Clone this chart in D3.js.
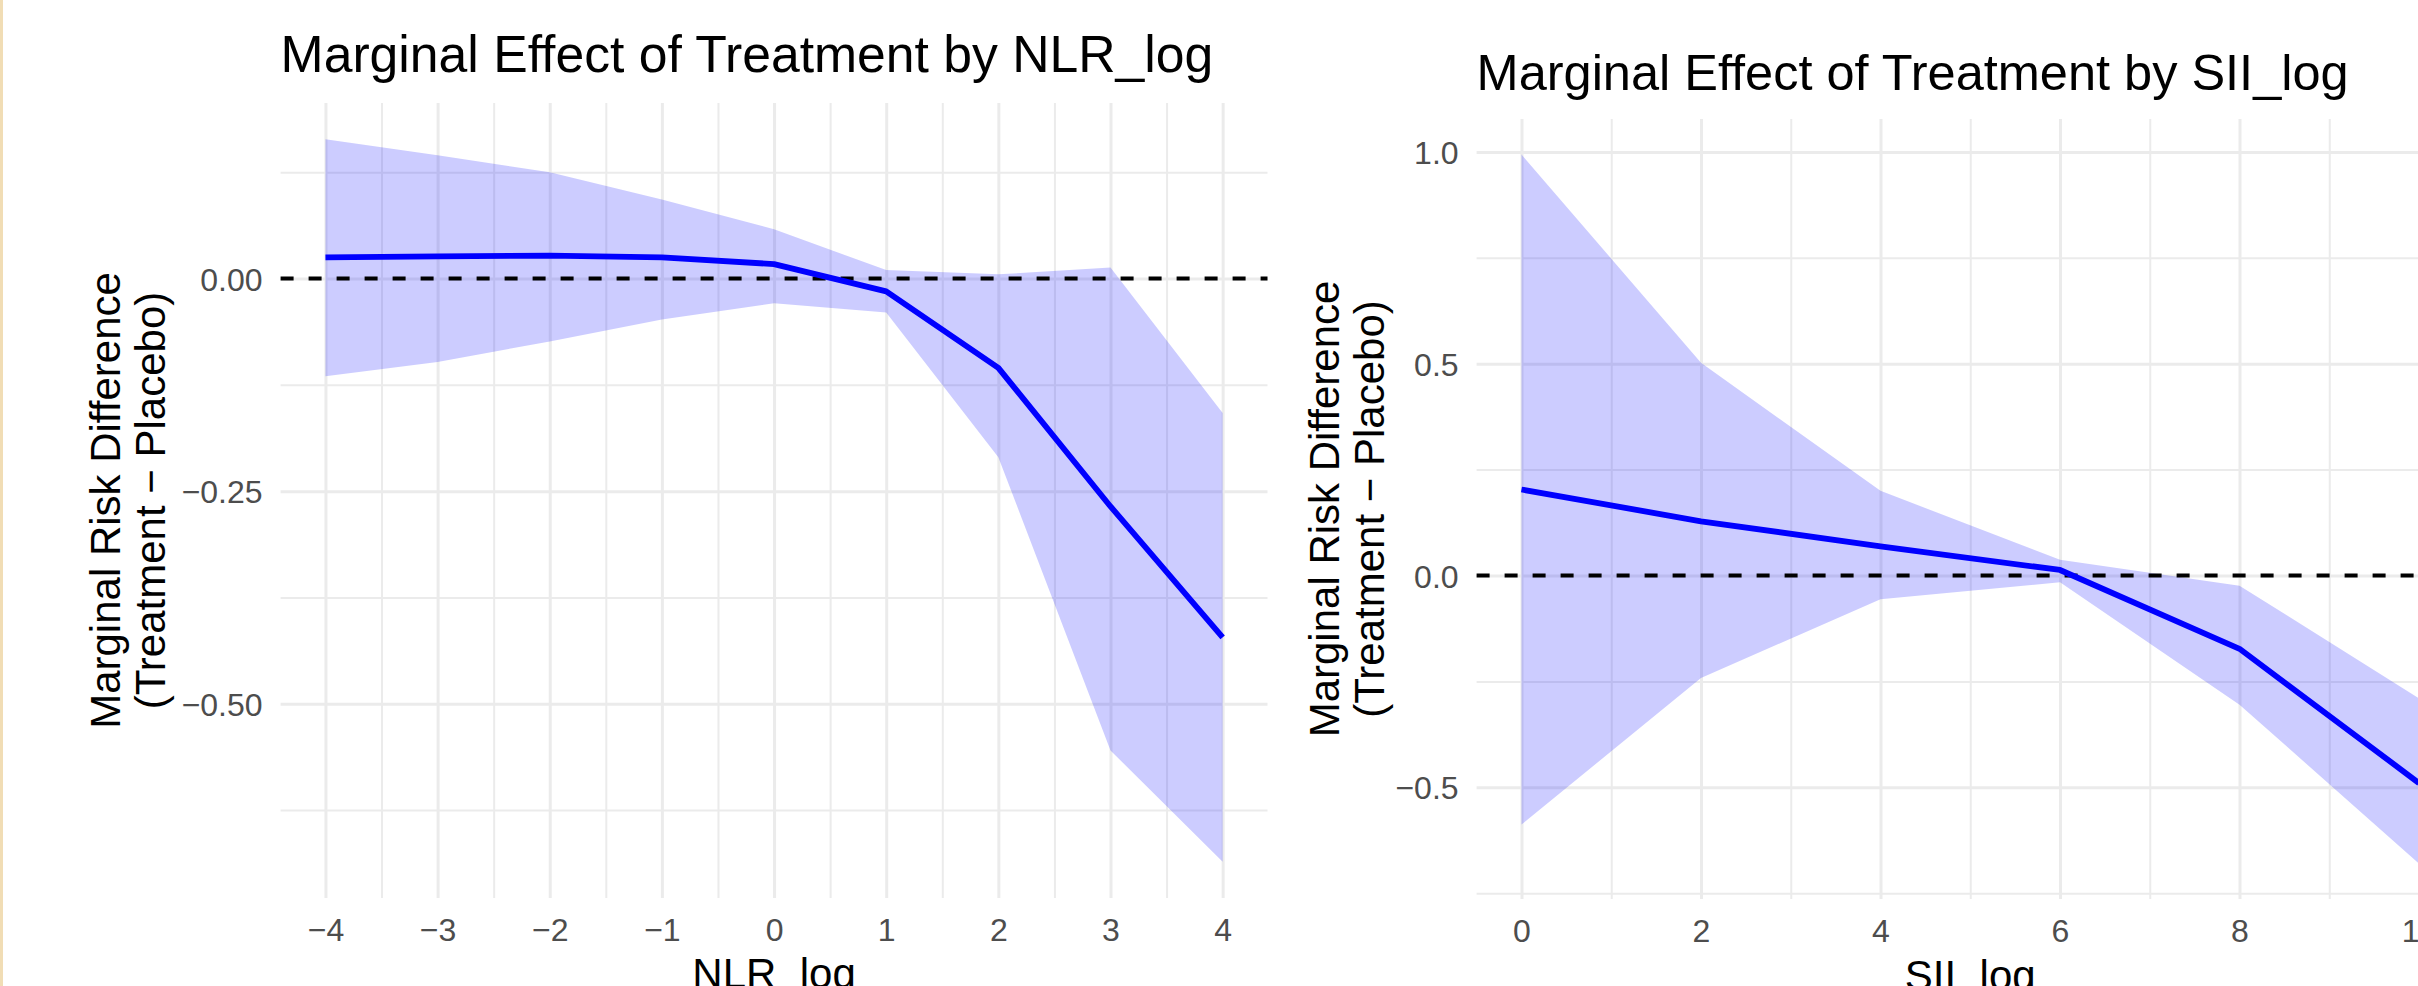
<!DOCTYPE html>
<html>
<head>
<meta charset="utf-8">
<script src="https://cdn.jsdelivr.net/npm/d3@7"></script>
<style>
    body { margin: 0; background: white; }
    svg { display: block; }
    text { font-family: "Liberation Sans", Arial, Helvetica, sans-serif; }
</style>
</head>
<body>
<main></main>
<script>
/* NLR_log panel data */
const nlrX = [-4, -3, -2, -1, 0, 1, 2, 3, 4]
const nlrEst = [0.025, 0.026, 0.027, 0.025, 0.017, -0.015, -0.105, -0.268, -0.422]
const nlrLower = [-0.115, -0.098, -0.074, -0.048, -0.029, -0.040, -0.210, -0.555, -0.686]
const nlrUpper = [0.164, 0.145, 0.125, 0.093, 0.058, 0.010, 0.005, 0.013, -0.158]
const nlrXTicks = [-4, -3, -2, -1, 0, 1, 2, 3, 4]
const nlrYTicks = [0, -0.25, -0.5]

/* SII_log panel data */
const siiX = [0, 2, 4, 6, 8, 10]
const siiEst = [0.203, 0.128, 0.069, 0.013, -0.173, -0.490]
const siiLower = [-0.588, -0.242, -0.056, -0.016, -0.305, -0.680]
const siiUpper = [0.994, 0.502, 0.200, 0.037, -0.024, -0.290]
const siiXTicks = [0, 2, 4, 6, 8, 10]
const siiYTicks = [1, 0.5, 0, -0.5]

const svgWidth = 2418
const svgHeight = 986

let svg = d3.select("main")
    .append("svg")
    .attr("width", svgWidth)
    .attr("height", svgHeight)
    .style("background-color", "white")

// thin tan strip on the left edge of the picture
svg.append("rect")
    .attr("x", 0)
    .attr("y", 0)
    .attr("width", 3)
    .attr("height", svgHeight)
    .attr("fill", "#F1DDB5")

function midpoints(ticks) {
    let out = []
    for (let i = 0; i < ticks.length - 1; i++) out.push((ticks[i] + ticks[i + 1]) / 2)
    return out
}

function drawPanel(p) {
    let g = svg.append("g")

    /* scales with ggplot style 5% expansion */
    let xExt = d3.extent(p.xs)
    let xPad = (xExt[1] - xExt[0]) * 0.05
    let xScale = d3.scaleLinear()
        .domain([xExt[0] - xPad, xExt[1] + xPad])
        .range([p.left, p.right])

    let yLo = d3.min(p.lower)
    let yHi = d3.max(p.upper)
    let yPad = (yHi - yLo) * 0.05
    let yScale = d3.scaleLinear()
        .domain([yLo - yPad, yHi + yPad])
        .range([p.bottom, p.top])

    let ySorted = p.yTicks.slice().sort((a, b) => a - b)
    let yStep = ySorted[1] - ySorted[0]
    let yMinor = d3.range(ySorted[0] - yStep / 2, ySorted[ySorted.length - 1] + yStep, yStep)
        .filter(v => v >= yScale.domain()[0] && v <= yScale.domain()[1])
    let xMinor = midpoints(p.xTicks)

    /* grid lines */
    let gridStyle = (sel, w) => {
        sel.select(".domain").remove()
        sel.selectAll("line").attr("stroke", "#EBEBEB").attr("stroke-width", w)
    }

    g.append("g")
        .attr("transform", `translate(0, ${p.bottom})`)
        .call(d3.axisBottom(xScale).tickValues(xMinor).tickSize(-(p.bottom - p.top)).tickFormat(""))
        .call(sel => gridStyle(sel, 2))

    g.append("g")
        .attr("transform", `translate(${p.left}, 0)`)
        .call(d3.axisLeft(yScale).tickValues(yMinor).tickSize(-(p.right - p.left)).tickFormat(""))
        .call(sel => gridStyle(sel, 2))

    g.append("g")
        .attr("transform", `translate(0, ${p.bottom})`)
        .call(d3.axisBottom(xScale).tickValues(p.xTicks).tickSize(-(p.bottom - p.top)).tickFormat(""))
        .call(sel => gridStyle(sel, 3))

    g.append("g")
        .attr("transform", `translate(${p.left}, 0)`)
        .call(d3.axisLeft(yScale).tickValues(p.yTicks).tickSize(-(p.right - p.left)).tickFormat(""))
        .call(sel => gridStyle(sel, 3))

    /* ribbon, reference line, estimate line */
    let idx = d3.range(p.xs.length)

    let area = d3.area()
        .x(i => xScale(p.xs[i]))
        .y0(i => yScale(p.lower[i]))
        .y1(i => yScale(p.upper[i]))

    g.append("path")
        .attr("d", area(idx))
        .attr("fill", "blue")
        .attr("fill-opacity", 0.2)

    g.append("line")
        .attr("x1", xScale.range()[0])
        .attr("x2", xScale.range()[1])
        .attr("y1", yScale(0))
        .attr("y2", yScale(0))
        .attr("stroke", "black")
        .attr("stroke-width", 4)
        .attr("stroke-dasharray", "13,15")

    let line = d3.line()
        .x(i => xScale(p.xs[i]))
        .y(i => yScale(p.est[i]))

    g.append("path")
        .attr("d", line(idx))
        .attr("fill", "none")
        .attr("stroke", "blue")
        .attr("stroke-width", 5.8)
        .attr("stroke-linejoin", "round")

    /* tick labels */
    let xAxis = g.append("g")
        .attr("transform", `translate(0, ${p.bottom})`)
        .call(d3.axisBottom(xScale).tickValues(p.xTicks).tickSize(0).tickPadding(20.5).tickFormat(d3.format("d")))
    xAxis.select(".domain").remove()
    xAxis.selectAll("text")
        .style("font-size", "32px")
        .attr("fill", "#4D4D4D")

    let yAxis = g.append("g")
        .attr("transform", `translate(${p.left}, 0)`)
        .call(d3.axisLeft(yScale).tickValues(p.yTicks).tickSize(0).tickPadding(18).tickFormat(d3.format(p.yFormat)))
    yAxis.select(".domain").remove()
    yAxis.selectAll("text")
        .attr("dy", "0.36em")
        .style("font-size", "32px")
        .attr("fill", "#4D4D4D")

    /* titles */
    g.append("text")
        .attr("x", p.left)
        .attr("y", p.titleY)
        .style("font-size", p.titleSize + "px")
        .attr("fill", "black")
        .text(p.title)

    g.append("text")
        .attr("x", (p.left + p.right) / 2)
        .attr("y", p.xTitleY)
        .attr("text-anchor", "middle")
        .style("font-size", "42px")
        .attr("fill", "black")
        .text(p.xTitle)

    let yTitle = g.append("text")
        .attr("transform", `translate(${p.yTitleX}, ${(p.top + p.bottom) / 2}) rotate(-90)`)
        .attr("text-anchor", "middle")
        .style("font-size", "42px")
        .attr("fill", "black")
    yTitle.append("tspan").attr("x", 0).attr("y", 0).text("Marginal Risk Difference")
    yTitle.append("tspan").attr("x", 0).attr("dy", 45).text("(Treatment \u2212 Placebo)")
}

drawPanel({
    xs: nlrX, est: nlrEst, lower: nlrLower, upper: nlrUpper,
    xTicks: nlrXTicks, yTicks: nlrYTicks, yFormat: ".2f",
    left: 280.6, right: 1267.5, top: 103, bottom: 898,
    title: "Marginal Effect of Treatment by NLR_log", titleY: 71.7, titleSize: 51.7,
    xTitle: "NLR_log", xTitleY: 988,
    yTitleX: 120
})

drawPanel({
    xs: siiX, est: siiEst, lower: siiLower, upper: siiUpper,
    xTicks: siiXTicks, yTicks: siiYTicks, yFormat: ".1f",
    left: 1476.6, right: 2463.9, top: 119, bottom: 899,
    title: "Marginal Effect of Treatment by SII_log", titleY: 89.5, titleSize: 50.5,
    xTitle: "SII_log", xTitleY: 990,
    yTitleX: 1338.5
})
</script>
</body>
</html>
